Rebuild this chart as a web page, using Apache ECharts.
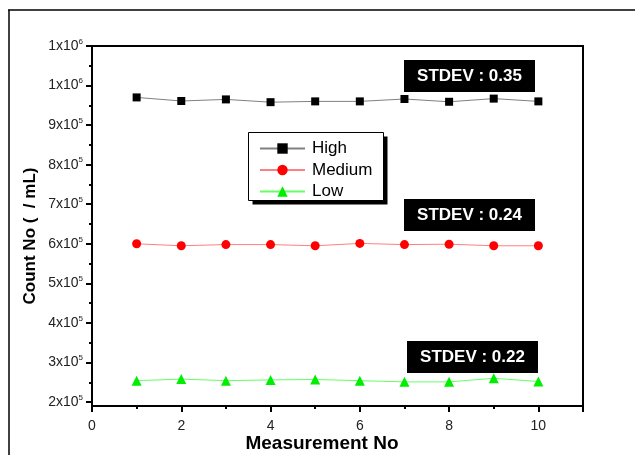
<!DOCTYPE html>
<html>
<head>
<meta charset="utf-8">
<script src="https://cdn.jsdelivr.net/npm/echarts@6/dist/echarts.min.js"></script>
<style>
  html, body { margin: 0; padding: 0; background: #fff; overflow: hidden; }
  #chart { width: 635px; height: 455px; }
</style>
</head>
<body>
<div id="chart"></div>
<script>
// measurement index
var runs = [1, 2, 3, 4, 5, 6, 7, 8, 9, 10];
// counts per series
var high = [970000, 961000, 965000, 958000, 960000, 960000, 966000, 959000, 967000, 960000];
var medium = [600000, 595000, 598000, 598000, 595000, 601000, 598000, 599000, 595000, 595000];
var low = [254000, 258000, 254000, 256000, 257000, 254000, 251000, 251000, 260000, 252000];
// y ticks
var yTicks = [200000, 300000, 400000, 500000, 600000, 700000, 800000, 900000, 1000000, 1100000];
var yTickBase = ['2x10', '3x10', '4x10', '5x10', '6x10', '7x10', '8x10', '9x10', '1x10', '1x10'];
var yTickExp = ['5', '5', '5', '5', '5', '5', '5', '5', '6', '6'];
var yMinorTicks = [250000, 350000, 450000, 550000, 650000, 750000, 850000, 950000, 1050000];
// stdev notes
var stdevLabels = ['STDEV : 0.35', 'STDEV : 0.24', 'STDEV : 0.22'];

var font = 'Arial, "Liberation Sans", sans-serif';

function pair(arr) {
    return arr.map(function (v, i) { return [runs[i], v]; });
}

var chart = echarts.init(document.getElementById('chart'));

var boxes = [
    { left: 404, top: 60 },
    { left: 404, top: 199 },
    { left: 407, top: 341 }
];

var graphics = [
    // page frame
    { type: 'line', shape: { x1: 8, y1: 10, x2: 635, y2: 10 }, style: { stroke: '#000', lineWidth: 1.5 } },
    { type: 'line', shape: { x1: 9, y1: 10, x2: 9, y2: 455 }, style: { stroke: '#000', lineWidth: 1.5 } },
    // legend frame with drop shadow
    {
        type: 'group',
        left: 248,
        top: 132,
        z: 3,
        children: [
            { type: 'rect', z: 3, shape: { x: 4, y: 4, width: 135, height: 68 }, style: { fill: '#000' } },
            { type: 'rect', z: 3, shape: { x: 0, y: 0, width: 135, height: 68 }, style: { fill: '#fff', stroke: '#000', lineWidth: 1 } }
        ]
    }
];
boxes.forEach(function (b, i) {
    graphics.push({
        type: 'group',
        left: b.left,
        top: b.top,
        z: 5,
        children: [
            { type: 'rect', z: 5, shape: { x: 0, y: 0, width: 131, height: 32 }, style: { fill: '#000' } },
            {
                type: 'text',
                z: 6,
                x: 65.5,
                y: 16,
                style: {
                    text: stdevLabels[i],
                    fill: '#fff',
                    font: 'bold 17px ' + font,
                    align: 'center',
                    verticalAlign: 'middle'
                }
            }
        ]
    });
});

chart.setOption({
    animation: false,
    backgroundColor: '#fff',
    grid: {
        left: 92,
        top: 46,
        right: 52,
        bottom: 49,
        outerBoundsMode: 'none',
        containLabel: false,
        show: true,
        borderColor: '#000',
        borderWidth: 2,
        backgroundColor: 'transparent'
    },
    legend: {
        orient: 'vertical',
        left: 259,
        top: 140,
        padding: 0,
        itemWidth: 45,
        itemHeight: 13,
        itemGap: 4.5,
        z: 6,
        textStyle: { fontFamily: font, fontSize: 17, color: '#000', lineHeight: 17, padding: [0, 0, 0, 2] },
        data: ['High', 'Medium', 'Low']
    },
    xAxis: {
        type: 'value',
        min: 0,
        max: 11,
        interval: 2,
        name: 'Measurement No',
        nameLocation: 'middle',
        nameGap: 28,
        nameMoveOverlap: false,
        nameTextStyle: { fontFamily: font, fontSize: 19, fontWeight: 'bold', color: '#000', padding: [0, 31, 0, 0] },
        axisLine: { show: true, lineStyle: { color: '#000', width: 2 } },
        axisTick: { show: true, inside: false, length: 6, lineStyle: { color: '#000', width: 2 } },
        minorTick: { show: true, splitNumber: 2, length: 3, lineStyle: { color: '#000', width: 2 } },
        axisLabel: {
            margin: 13,
            fontFamily: font,
            fontSize: 14,
            color: '#222',
            showMaxLabel: false
        },
        splitLine: { show: false }
    },
    yAxis: [
        {
            type: 'value',
            min: 190000,
            max: 1100000,
            name: 'Count No (  / mL)',
            nameLocation: 'middle',
            nameGap: 53,
            nameMoveOverlap: false,
            nameTextStyle: { fontFamily: font, fontSize: 17, fontWeight: 'bold', color: '#000', padding: [0, 20, 0, 0] },
            axisLine: { show: true, lineStyle: { color: '#000', width: 2 } },
            axisTick: { show: true, inside: false, length: 6, customValues: yTicks, lineStyle: { color: '#000', width: 2 } },
            axisLabel: {
                margin: 9,
                customValues: yTicks,
                formatter: function (v) {
                    var i = yTicks.indexOf(v);
                    if (i < 0) return '';
                    return '{b|' + yTickBase[i] + '}{s|' + yTickExp[i] + '}';
                },
                rich: {
                    b: { fontFamily: font, fontSize: 14, color: '#222' },
                    s: { fontFamily: font, fontSize: 8, color: '#222', padding: [0, 0, 9, 0] }
                }
            },
            splitLine: { show: false }
        },
        {
            type: 'value',
            min: 190000,
            max: 1100000,
            position: 'left',
            axisLine: { show: false },
            axisTick: { show: true, inside: false, length: 3, customValues: yMinorTicks, lineStyle: { color: '#000', width: 2 } },
            axisLabel: { show: false, customValues: yMinorTicks },
            splitLine: { show: false }
        }
    ],
    series: [
        {
            name: 'High',
            type: 'line',
            data: pair(high),
            symbol: 'rect',
            symbolSize: 8,
            itemStyle: { color: '#000' },
            lineStyle: { color: '#808080', width: 1 }
        },
        {
            name: 'Medium',
            type: 'line',
            data: pair(medium),
            symbol: 'circle',
            symbolSize: 9,
            itemStyle: { color: '#ff0000' },
            lineStyle: { color: '#ff8080', width: 1 }
        },
        {
            name: 'Low',
            type: 'line',
            data: pair(low),
            symbol: 'triangle',
            symbolSize: 10,
            itemStyle: { color: '#00ee00' },
            lineStyle: { color: '#66ff66', width: 1 }
        }
    ],
    graphic: graphics
});
</script>
</body>
</html>
